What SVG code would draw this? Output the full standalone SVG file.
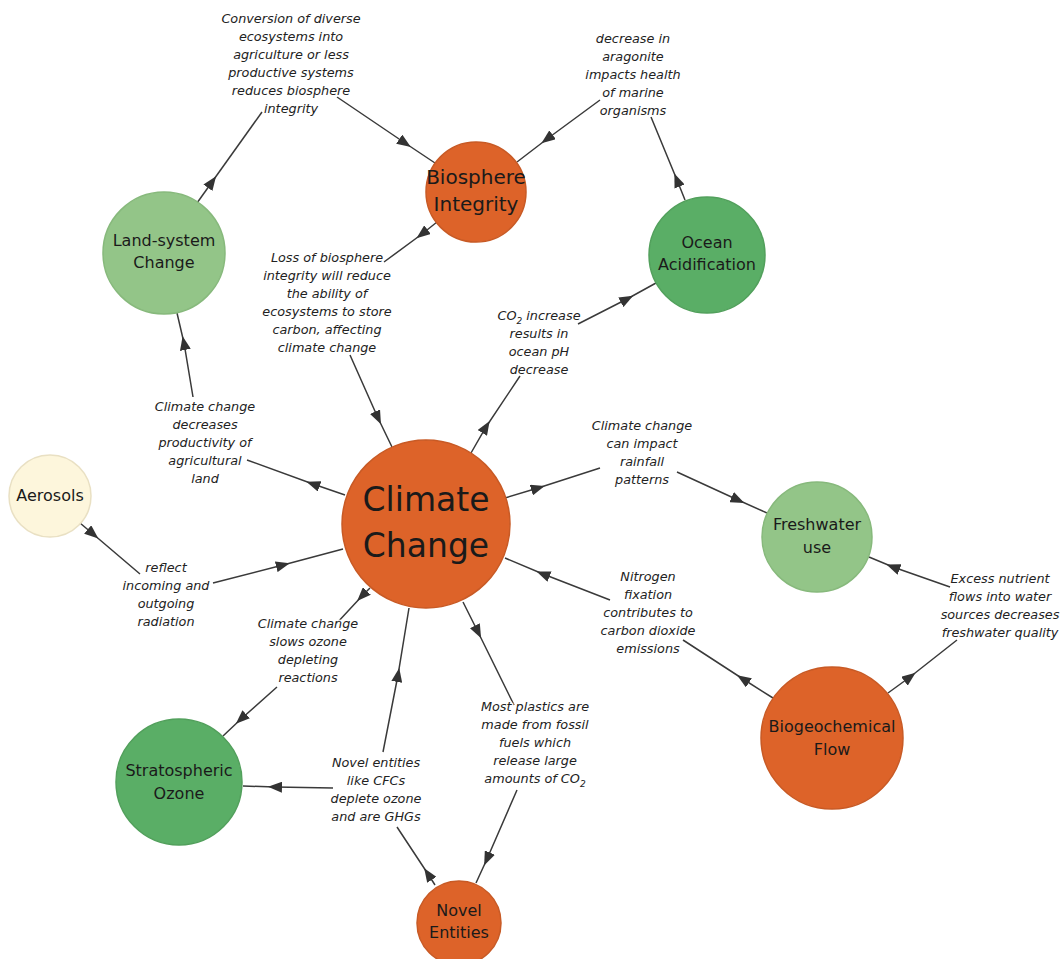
<svg xmlns="http://www.w3.org/2000/svg" width="1062" height="959" viewBox="0 0 1062 959">
<style>
.bg{fill:#ffffff}
.edge{fill:none;stroke:#3a3a3a;stroke-width:1.5;marker-mid:url(#arr)}
.lbl{font-family:"DejaVu Sans","Liberation Sans",sans-serif;font-size:12.8px;font-style:italic;fill:#222222;text-anchor:middle;stroke:#ffffff;stroke-width:3;stroke-opacity:0.85;paint-order:stroke;stroke-linejoin:round}
.nt{font-family:"DejaVu Sans","Liberation Sans",sans-serif;font-size:16px;fill:#1a1a1a;text-anchor:middle}
.big{font-size:33px}
.mid{font-size:20px}
.orange{fill:#DD6329;stroke:#C85A25;stroke-width:1.5}
.dgreen{fill:#5AAE66;stroke:#52A05C;stroke-width:1.5}
.lgreen{fill:#93C588;stroke:#87B97C;stroke-width:1.5}
.yellow{fill:#FDF6DC;stroke:#E9E0C3;stroke-width:1.5}
</style>
<defs>
<marker id="arr" markerUnits="userSpaceOnUse" markerWidth="14" markerHeight="11" refX="7" refY="5.5" orient="auto" viewBox="0 0 14 11">
<path d="M0,0 L14,5.5 L0,11 z" fill="#333333"/>
</marker>
</defs>
<rect class="bg" x="0" y="0" width="1062" height="959"/>
<g id="connectors">
<path class="edge" d="M197,203 L212,182 L262,112"/>
<path class="edge" d="M337,97 L405,143 L435,163"/>
<path class="edge" d="M685,200 L677,180 L651,117"/>
<path class="edge" d="M600,100 L547,139 L517,162"/>
<path class="edge" d="M471,453 L486,427 L520,376"/>
<path class="edge" d="M578,324 L627,299 L656,283"/>
<path class="edge" d="M437,222 L422,234 L384,262"/>
<path class="edge" d="M350,355 L378,418 L392,447"/>
<path class="edge" d="M345,495 L313,484 L247,460"/>
<path class="edge" d="M193,397 L184,343 L177,313"/>
<path class="edge" d="M80,523 L93,534 L140,574"/>
<path class="edge" d="M213,583 L283,565 L343,549"/>
<path class="edge" d="M370,588 L362,596 L336,624"/>
<path class="edge" d="M277,687 L241,719 L223,736"/>
<path class="edge" d="M435,885 L428,874 L397,827"/>
<path class="edge" d="M333,788 L275,787 L243,786"/>
<path class="edge" d="M383,752 L398,675 L409,608"/>
<path class="edge" d="M463,602 L478,632 L514,705"/>
<path class="edge" d="M517,790 L487,859 L476,883"/>
<path class="edge" d="M505,498 L538,488 L600,468"/>
<path class="edge" d="M677,472 L738,500 L767,513"/>
<path class="edge" d="M773,698 L743,679 L683,640"/>
<path class="edge" d="M610,600 L543,574 L505,558"/>
<path class="edge" d="M888,693 L910,677 L957,640"/>
<path class="edge" d="M950,587 L893,567 L869,557"/>
</g>
<g id="edge-labels">
<text class="lbl" x="291" y="23">Conversion of diverse<tspan x="291" dy="18">ecosystems into</tspan><tspan x="291" dy="18">agriculture or less</tspan><tspan x="291" dy="18">productive systems</tspan><tspan x="291" dy="18">reduces biosphere</tspan><tspan x="291" dy="18">integrity</tspan></text>
<text class="lbl" x="633" y="43">decrease in<tspan x="633" dy="18">aragonite</tspan><tspan x="633" dy="18">impacts health</tspan><tspan x="633" dy="18">of marine</tspan><tspan x="633" dy="18">organisms</tspan></text>
<text class="lbl" x="539" y="320">CO<tspan style="font-size:9px" dy="4">2</tspan><tspan dy="-4"> increase</tspan><tspan x="539" dy="18">results in</tspan><tspan x="539" dy="18">ocean pH</tspan><tspan x="539" dy="18">decrease</tspan></text>
<text class="lbl" x="327" y="262">Loss of biosphere<tspan x="327" dy="18">integrity will reduce</tspan><tspan x="327" dy="18">the ability of</tspan><tspan x="327" dy="18">ecosystems to store</tspan><tspan x="327" dy="18">carbon, affecting</tspan><tspan x="327" dy="18">climate change</tspan></text>
<text class="lbl" x="205" y="411">Climate change<tspan x="205" dy="18">decreases</tspan><tspan x="205" dy="18">productivity of</tspan><tspan x="205" dy="18">agricultural</tspan><tspan x="205" dy="18">land</tspan></text>
<text class="lbl" x="166" y="572">reflect<tspan x="166" dy="18">incoming and</tspan><tspan x="166" dy="18">outgoing</tspan><tspan x="166" dy="18">radiation</tspan></text>
<text class="lbl" x="642" y="430">Climate change<tspan x="642" dy="18">can impact</tspan><tspan x="642" dy="18">rainfall</tspan><tspan x="642" dy="18">patterns</tspan></text>
<text class="lbl" x="648" y="581">Nitrogen<tspan x="648" dy="18">fixation</tspan><tspan x="648" dy="18">contributes to</tspan><tspan x="648" dy="18">carbon dioxide</tspan><tspan x="648" dy="18">emissions</tspan></text>
<text class="lbl" x="1000" y="583">Excess nutrient<tspan x="1000" dy="18">flows into water</tspan><tspan x="1000" dy="18">sources decreases</tspan><tspan x="1000" dy="18">freshwater quality</tspan></text>
<text class="lbl" x="308" y="628">Climate change<tspan x="308" dy="18">slows ozone</tspan><tspan x="308" dy="18">depleting</tspan><tspan x="308" dy="18">reactions</tspan></text>
<text class="lbl" x="376" y="767">Novel entities<tspan x="376" dy="18">like CFCs</tspan><tspan x="376" dy="18">deplete ozone</tspan><tspan x="376" dy="18">and are GHGs</tspan></text>
<text class="lbl" x="535" y="711">Most plastics are<tspan x="535" dy="18">made from fossil</tspan><tspan x="535" dy="18">fuels which</tspan><tspan x="535" dy="18">release large</tspan><tspan x="535" dy="18">amounts of CO</tspan><tspan style="font-size:9px" dy="4">2</tspan></text>
</g>
<g id="node-climate-change">
<circle class="orange" cx="426" cy="524" r="84"/>
<text class="nt big" x="426" y="511">Climate</text>
<text class="nt big" x="426" y="557">Change</text>
</g>
<g id="node-biosphere-integrity">
<circle class="orange" cx="476" cy="192" r="50"/>
<text class="nt mid" x="476" y="184">Biosphere</text>
<text class="nt mid" x="476" y="211">Integrity</text>
</g>
<g id="node-ocean-acidification">
<circle class="dgreen" cx="707" cy="255" r="58"/>
<text class="nt" x="707" y="248">Ocean</text>
<text class="nt" x="707" y="270">Acidification</text>
</g>
<g id="node-land-system-change">
<circle class="lgreen" cx="164" cy="253" r="61"/>
<text class="nt" x="164" y="246">Land-system</text>
<text class="nt" x="164" y="268">Change</text>
</g>
<g id="node-aerosols">
<circle class="yellow" cx="50" cy="496" r="41"/>
<text class="nt" x="50" y="501">Aerosols</text>
</g>
<g id="node-freshwater-use">
<circle class="lgreen" cx="817" cy="537" r="55"/>
<text class="nt" x="817" y="530">Freshwater</text>
<text class="nt" x="817" y="553">use</text>
</g>
<g id="node-biogeochemical-flow">
<circle class="orange" cx="832" cy="738" r="71"/>
<text class="nt" x="832" y="732">Biogeochemical</text>
<text class="nt" x="832" y="755">Flow</text>
</g>
<g id="node-stratospheric-ozone">
<circle class="dgreen" cx="179" cy="782" r="63"/>
<text class="nt" x="179" y="776">Stratospheric</text>
<text class="nt" x="179" y="799">Ozone</text>
</g>
<g id="node-novel-entities">
<circle class="orange" cx="459" cy="923" r="42"/>
<text class="nt" x="459" y="916">Novel</text>
<text class="nt" x="459" y="938">Entities</text>
</g>
</svg>
